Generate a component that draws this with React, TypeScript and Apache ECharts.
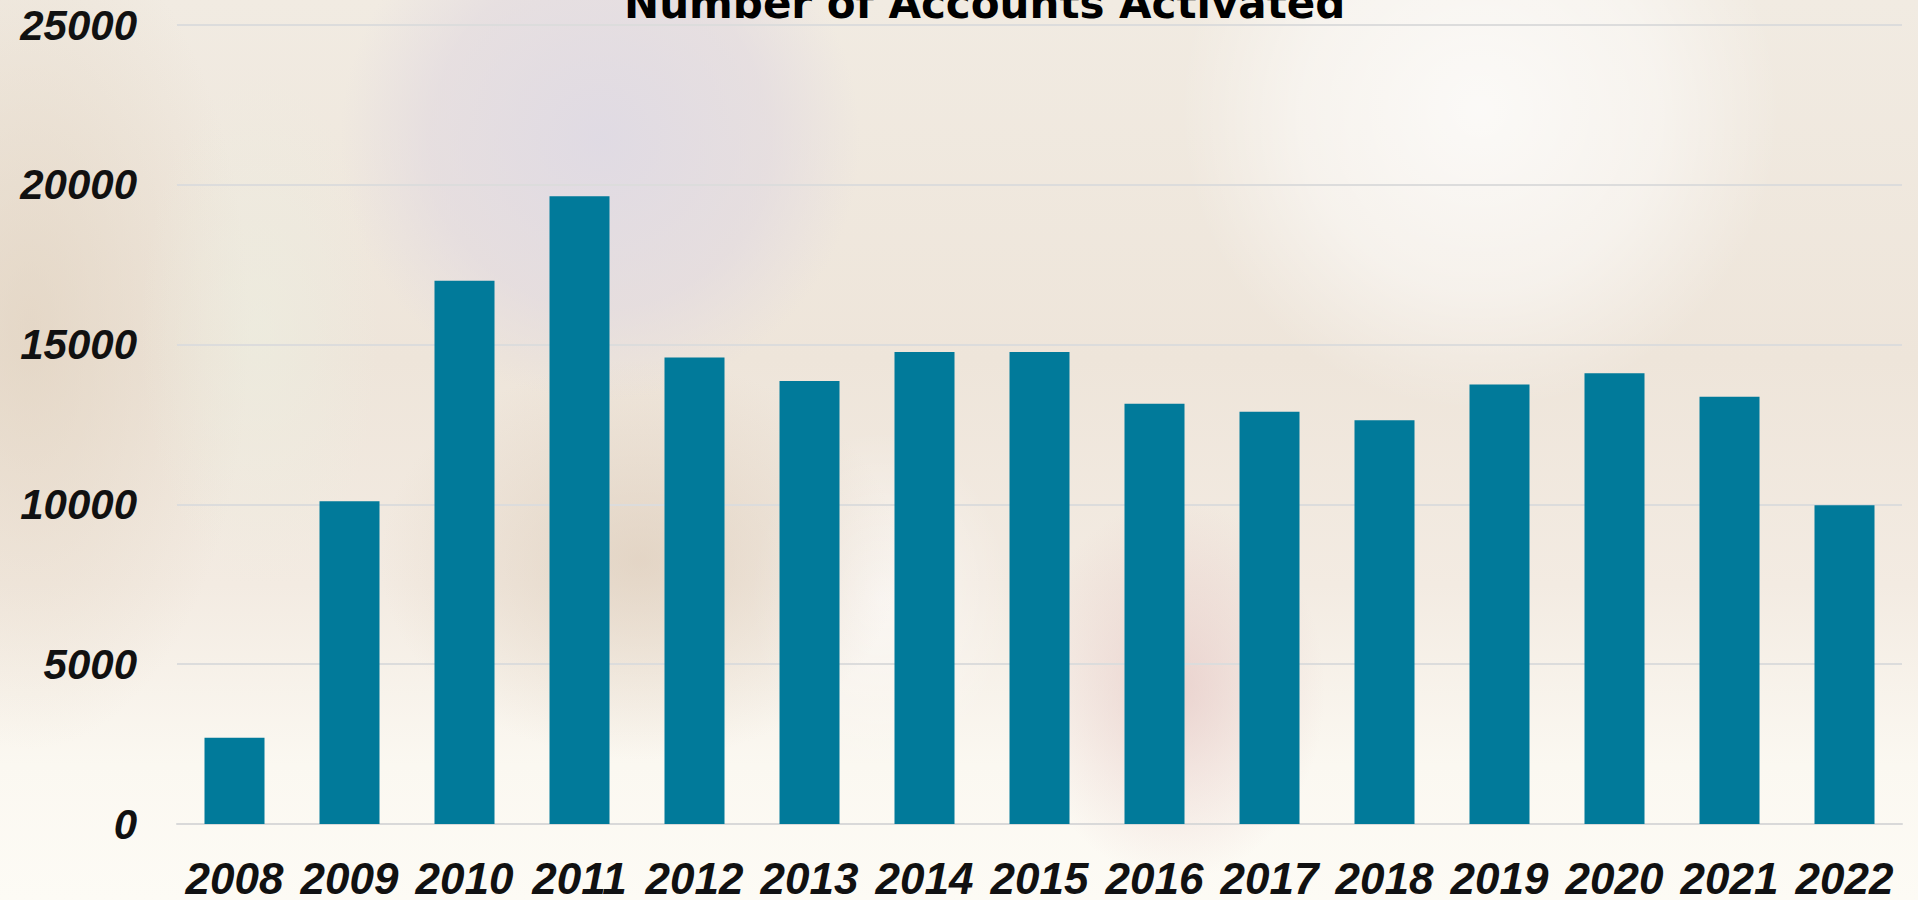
import React, { useEffect, useRef } from "react";
import * as echarts from "echarts";

const years = ["2008", "2009", "2010", "2011", "2012", "2013", "2014", "2015", "2016", "2017", "2018", "2019", "2020", "2021", "2022"];
const accounts = [2700, 10100, 17000, 19640, 14600, 13860, 14770, 14770, 13150, 12900, 12630, 13750, 14100, 13370, 9970];
const yTicks = [0, 5000, 10000, 15000, 20000, 25000];
const titleText = "Number of Accounts Activated";

const background = [
  "radial-gradient(circle at 1480px 110px, rgba(255,255,255,0.75) 0px, rgba(255,255,255,0.45) 180px, rgba(255,255,255,0) 300px)",
  "radial-gradient(circle at 600px 140px, rgba(222,217,228,0.9) 0px, rgba(224,216,224,0.6) 170px, rgba(230,222,220,0) 260px)",
  "radial-gradient(ellipse 150px 190px at 1175px 690px, rgba(225,190,188,0.6), rgba(225,190,188,0))",
  "radial-gradient(ellipse 260px 200px at 640px 560px, rgba(212,192,170,0.5), rgba(212,192,170,0))",
  "radial-gradient(ellipse 130px 170px at 880px 600px, rgba(255,255,255,0.55), rgba(255,255,255,0))",
  "radial-gradient(ellipse 120px 260px at 260px 330px, rgba(236,238,224,0.6), rgba(236,238,224,0))",
  "radial-gradient(ellipse 220px 420px at 30px 330px, rgba(222,206,186,0.6), rgba(222,206,186,0))",
  "linear-gradient(to bottom, #f1ebe2 0%, #eee5da 40%, #f3ebe2 65%, #fbf8f1 85%, #fdfbf5 100%)",
].join(", ");

export default function App() {
  const ref = useRef<HTMLDivElement>(null);
  useEffect(() => {
    if (!ref.current) return;
    const chart = echarts.init(ref.current, null, { renderer: "svg" });
    chart.setOption({
      animation: false,
      backgroundColor: "transparent",
      graphic: [
        {
          type: "text",
          left: 624,
          top: -18,
          style: {
            text: titleText,
            font: "bold 42px 'DejaVu Sans'",
            fill: "#000000",
          },
        },
      ],
      grid: { left: 177, right: 16, top: 25, height: 800, containLabel: false },
      xAxis: {
        type: "category",
        data: years,
        axisLine: { show: true, lineStyle: { color: "#d9d9d9", width: 2 } },
        axisTick: { show: false },
        axisLabel: {
          interval: 0,
          hideOverlap: false,
          margin: 32,
          fontFamily: "'Liberation Sans', Arial, sans-serif",
          fontSize: 44,
          fontWeight: "bold",
          fontStyle: "italic",
          color: "#111111",
        },
      },
      yAxis: {
        type: "value",
        min: 0,
        max: 25000,
        interval: 5000,
        axisLine: { show: false },
        axisTick: { show: false },
        splitLine: { lineStyle: { color: "#dcdcdc", width: 2 } },
        axisLabel: {
          margin: 40,
          fontFamily: "'Liberation Sans', Arial, sans-serif",
          fontSize: 42,
          fontWeight: "bold",
          fontStyle: "italic",
          color: "#111111",
          formatter: (v: number) => (yTicks.includes(v) ? String(v) : ""),
        },
      },
      series: [
        {
          type: "bar",
          data: accounts,
          barWidth: 60,
          itemStyle: { color: "#017a9a" },
        },
      ],
    });
    return () => chart.dispose();
  }, []);
  return (
    <div
      style={{
        position: "fixed",
        left: 0,
        top: 0,
        width: 1918,
        height: 900,
        backgroundImage: background,
      }}
    >
      <div ref={ref} style={{ width: 1918, height: 900 }} />
    </div>
  );
}
